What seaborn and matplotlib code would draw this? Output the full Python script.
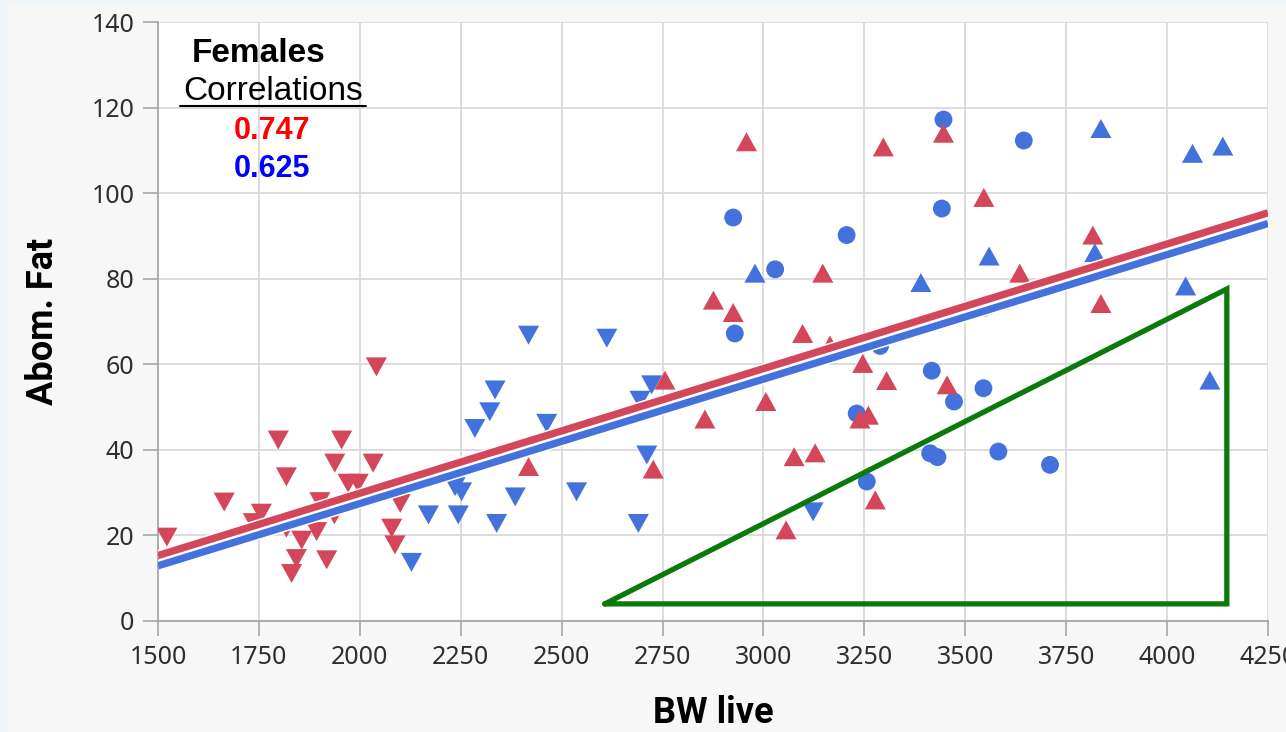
import numpy as np
import pandas as pd
import matplotlib
matplotlib.use("Agg")
import matplotlib.pyplot as plt
import matplotlib.patheffects as pe
from matplotlib.path import Path
from matplotlib.lines import Line2D
from matplotlib.patches import Rectangle
import seaborn as sns

# --- data ---
red_down_x = [1522, 1664, 1736, 1756, 1798, 1818, 1818, 1831, 1843, 1856, 1893, 1901,
              1918, 1937, 1938, 1955, 1971, 1996, 2033, 2041, 2079, 2087, 2100]
red_down_y = [19.6, 27.8, 23.0, 25.2, 42.3, 33.7, 21.7, 11.1, 14.6, 18.9, 20.9, 27.9,
              14.3, 24.8, 36.9, 42.3, 32.2, 32.2, 36.9, 59.4, 21.7, 17.8, 27.5]

red_up_x = [2418, 2727, 2756, 2855, 2876, 2925, 2958, 3006, 3056, 3076, 3097, 3128, 3147,
            3165, 3239, 3246, 3260, 3277, 3297, 3305, 3446, 3455, 3529, 3546, 3635, 3816, 3836]
red_up_y = [36.1, 35.5, 56.3, 47.2, 75.0, 72.1, 112.0, 51.3, 21.3, 38.4, 67.2, 39.3, 81.3,
            64.5, 47.2, 60.2, 48.1, 28.3, 110.8, 56.2, 114.0, 55.2, 73.4, 99.0, 81.3, 90.2, 74.2]

blue_down_x = [2128, 2170, 2236, 2252, 2244, 2285, 2322, 2335, 2339, 2385, 2418, 2463,
               2482, 2537, 2612, 2690, 2694, 2711, 2723, 3123]
blue_down_y = [13.7, 24.8, 31.4, 30.2, 24.8, 45.0, 48.9, 54.0, 22.8, 29.0, 66.8, 46.2,
               42.3, 30.2, 66.1, 22.8, 51.6, 38.8, 55.2, 25.5]

blue_up_x = [2979, 3390, 3559, 3821, 3836, 4046, 4063, 4106, 4138]
blue_up_y = [81.3, 79.1, 85.3, 86.1, 115.1, 78.3, 109.3, 56.3, 111.0]

blue_circ_x = [2925, 2929, 3029, 3206, 3231, 3256, 3289, 3413, 3417, 3431, 3442, 3446,
               3472, 3545, 3582, 3645, 3710]
blue_circ_y = [94.3, 67.2, 82.2, 90.2, 48.5, 32.6, 64.3, 39.2, 58.5, 38.3, 96.4, 117.2,
               51.3, 54.4, 39.6, 112.3, 36.5]

# fitted lines (ends at the x limits)
fit_x = [1500, 4250]
red_fit = [15.3, 95.4]
blue_fit = [12.9, 92.9]

corr_red = "0.747"
corr_blue = "0.625"

# green highlight triangle
tri_x = [2607, 4148, 4148, 2607]
tri_y = [4.0, 77.6, 4.0, 4.0]

x_ticks = list(range(1500, 4251, 250))
y_ticks = list(range(0, 141, 20))

RED = "#d4475a"
BLUE = "#4472dc"


def frame(xs, ys, group, shape):
    return pd.DataFrame({"BW live": xs, "Abom. Fat": ys, "group": group, "shape": shape})


blue_tri = pd.concat([frame(blue_down_x, blue_down_y, "blue", "down"),
                      frame(blue_up_x, blue_up_y, "blue", "up")], ignore_index=True)
blue_circ = frame(blue_circ_x, blue_circ_y, "blue", "circle")
red_tri = pd.concat([frame(red_down_x, red_down_y, "red", "down"),
                     frame(red_up_x, red_up_y, "red", "up")], ignore_index=True)

tri_up = Path([(0, 0.9), (-1, -0.9), (1, -0.9), (0, 0.9)], closed=True)
tri_down = Path([(0, -0.9), (-1, 0.9), (1, 0.9), (0, -0.9)], closed=True)
marker_map = {"down": tri_down, "up": tri_up, "circle": "o"}
palette = {"red": RED, "blue": BLUE}

sns.set_theme(style="whitegrid")
plt.rcParams["font.family"] = ["Noto Sans", "DejaVu Sans"]
plt.rcParams["text.color"] = "black"
plt.rcParams["axes.labelcolor"] = "black"

W, H = 1286, 732
fig = plt.figure(figsize=(W / 100, H / 100), dpi=100)
fig.patch.set_facecolor("#eef5f8")
fig.patches.append(Rectangle((8 / W, 0), 1, 1 - 4 / H, transform=fig.transFigure,
                             facecolor="#f7f7f7", edgecolor="none", zorder=-5))

ax = fig.add_axes([158 / W, 111 / H, 1110 / W, 599 / H])
ax.set_zorder(1)
ax.set_facecolor("white")

# blue first, red on top
for part, size in [(blue_tri, 230), (blue_circ, 165), (red_tri, 230)]:
    sns.scatterplot(data=part, x="BW live", y="Abom. Fat", hue="group", style="shape",
                    palette=palette, markers=marker_map, s=size, linewidth=0,
                    alpha=1, legend=False, ax=ax, zorder=3)

stroke = [pe.Stroke(linewidth=7.5, foreground="white"), pe.Normal()]
ax.plot(fit_x, red_fit, color=RED, lw=5.3, zorder=4, path_effects=stroke, solid_capstyle="butt")
ax.plot(fit_x, blue_fit, color=BLUE, lw=5.3, zorder=4, path_effects=stroke, solid_capstyle="butt")

ax.plot(tri_x, tri_y, color="#0b7a0b", lw=3.8, zorder=5, solid_joinstyle="miter")

ax.set_xlim(1500, 4250)
ax.set_ylim(0, 140)
ax.set_xticks(x_ticks)
ax.set_yticks(y_ticks)
ax.grid(True, color="#d9d9d9", lw=1.3)
for side in ["top", "right"]:
    ax.spines[side].set_visible(False)
for side in ["left", "bottom"]:
    ax.spines[side].set_color("#a6a6a6")
    ax.spines[side].set_linewidth(1.3)
ax.tick_params(axis="both", length=11, width=1.2, color="#a6a6a6",
               labelcolor="#2e2e2e", labelsize=18, pad=6, left=True, bottom=True)

label_font = ["Liberation Sans Narrow", "Roboto", "DejaVu Sans"]
ax.set_xlabel("BW live", fontsize=26, fontweight="bold", labelpad=18, family=label_font)
ax.set_ylabel("Abom. Fat", fontsize=26, fontweight="bold", labelpad=22, family=label_font)

# correlation annotation
txt_font = ["Liberation Sans", "DejaVu Sans"]
fig.text(259 / W, 1 - 62 / H, "Females", fontsize=24, fontweight="bold", ha="center",
         va="baseline", family=txt_font, color="black", zorder=10)
fig.text(273 / W, 1 - 100 / H, "Correlations", fontsize=24, ha="center",
         va="baseline", family=txt_font, color="black", zorder=10)
fig.add_artist(Line2D([180 / W, 366 / W], [1 - 106 / H, 1 - 106 / H], color="black",
                      lw=1.5, transform=fig.transFigure, zorder=10))
fig.text(272 / W, 1 - 139 / H, corr_red, fontsize=22, fontweight="bold", color="#ff0000",
         ha="center", va="baseline", family=txt_font, zorder=10)
fig.text(272 / W, 1 - 177 / H, corr_blue, fontsize=22, fontweight="bold", color="#0000ff",
         ha="center", va="baseline", family=txt_font, zorder=10)

fig.savefig("out.png", dpi=100, facecolor=fig.get_facecolor())
